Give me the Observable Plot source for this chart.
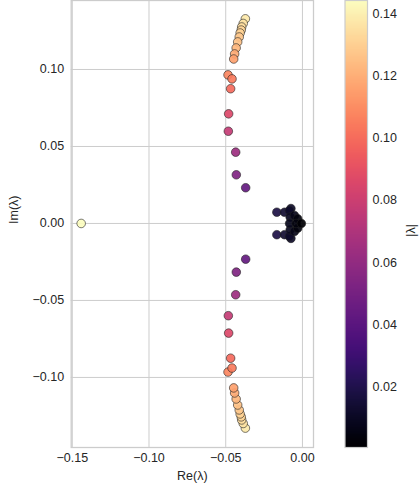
<!DOCTYPE html>
<html>
<head>
<meta charset="utf-8">
<script src="https://cdn.jsdelivr.net/npm/d3@7"></script>
<script src="https://cdn.jsdelivr.net/npm/@observablehq/plot@0.6"></script>
<style>
  body { margin: 0; background: #fff; }
  #wrap { position: relative; width: 419px; height: 488px; }
  #wrap svg { position: absolute; left: 0; top: 0; overflow: visible; }
</style>
</head>
<body>
<div id="wrap"></div>
<script>
const reParts = [
  -0.1442,
  -0.0372, -0.0386, -0.0396, -0.0399, -0.0406, -0.0412, -0.0422, -0.0432, -0.0442, -0.0448,
  -0.0485, -0.0459, -0.0468, -0.0481, -0.0483, -0.0435, -0.0431, -0.0370,
  -0.0372, -0.0386, -0.0396, -0.0399, -0.0406, -0.0412, -0.0422, -0.0432, -0.0442, -0.0448,
  -0.0485, -0.0459, -0.0468, -0.0481, -0.0483, -0.0435, -0.0431, -0.0370,
  -0.0167, -0.0117, -0.0075, -0.0084, -0.0080, -0.0052, -0.0031,
  -0.0167, -0.0117, -0.0075, -0.0084, -0.0080, -0.0052, -0.0031,
  -0.0084, -0.0041, -0.0007
];
const imParts = [
  0.0,
  0.1329, 0.1299, 0.1276, 0.1256, 0.1237, 0.1211, 0.1179, 0.1140, 0.1101, 0.1068,
  0.0965, 0.0939, 0.0875, 0.0712, 0.0599, 0.0463, 0.0316, 0.0232,
  -0.1329, -0.1299, -0.1276, -0.1256, -0.1237, -0.1211, -0.1179, -0.1140, -0.1101, -0.1068,
  -0.0965, -0.0939, -0.0875, -0.0712, -0.0599, -0.0463, -0.0316, -0.0232,
  0.0073, 0.0073, 0.0097, 0.0084, 0.0041, 0.0052, 0.0031,
  -0.0073, -0.0073, -0.0097, -0.0084, -0.0041, -0.0052, -0.0031,
  0.0, 0.0, 0.0
];
const xTicks = [-0.15, -0.10, -0.05, 0.00];
const yTicks = [-0.10, -0.05, 0.00, 0.05, 0.10];
const cTicks = [0.02, 0.04, 0.06, 0.08, 0.10, 0.12, 0.14];

const points = reParts.map((re, i) => ({re, im: imParts[i], mag: Math.hypot(re, imParts[i])}));
const magExtent = d3.extent(points, d => d.mag);

const font = "'Liberation Sans', Arial, sans-serif";
const fs = 12.5;
const textColor = "#262626";
const fmt = d3.format(".2f");

const W = 419, H = 488;
const colorOpt = {type: "linear", scheme: "magma", domain: magExtent};

const main = Plot.plot({
  width: W, height: H,
  marginLeft: 70.7, marginRight: 106, marginTop: 0, marginBottom: 41,
  style: {fontFamily: font, fontSize: fs + "px", color: textColor, background: "transparent"},
  x: {domain: [-0.1507, 0.0072]},
  y: {domain: [-0.1455, 0.1448]},
  color: colorOpt,
  marks: [
    Plot.gridX(xTicks, {stroke: "#cccccc", strokeOpacity: 1, strokeWidth: 1}),
    Plot.gridY(yTicks, {stroke: "#cccccc", strokeOpacity: 1, strokeWidth: 1}),
    Plot.frame({stroke: "#cccccc", strokeWidth: 1.3}),
    Plot.axisX(xTicks, {tickSize: 0, tickPadding: 6, tickFormat: fmt, label: null, fontSize: fs, fill: textColor}),
    Plot.axisY(yTicks, {tickSize: 0, tickPadding: 7, tickFormat: fmt, label: null, fontSize: fs, fill: textColor}),
    Plot.text(["Re(λ)"], {frameAnchor: "bottom", dy: 28, fontSize: fs, fill: textColor, lineAnchor: "middle"}),
    Plot.text(["Im(λ)"], {frameAnchor: "left", dx: -57, rotate: -90, fontSize: fs, fill: textColor, lineAnchor: "middle"}),
    Plot.dot(points, {x: "re", y: "im", fill: "mag", r: 4.3, stroke: "#222", strokeWidth: 0.6, fillOpacity: 0.92})
  ]
});

const cbar = Plot.plot({
  width: W, height: H,
  marginLeft: 344.5, marginRight: 52, marginTop: 0, marginBottom: 41,
  style: {fontFamily: font, fontSize: fs + "px", color: textColor, background: "transparent"},
  x: {domain: [0, 1], axis: null},
  y: {domain: magExtent},
  color: colorOpt,
  marks: [
    Plot.raster({x1: 0, x2: 1, y1: magExtent[0], y2: magExtent[1], width: 1, height: 256,
      fill: (x, y) => y, imageRendering: "auto"}),
    Plot.frame({stroke: "#cccccc", strokeWidth: 1.2}),
    Plot.axisY(cTicks, {anchor: "right", tickSize: 0, tickPadding: 5, tickFormat: fmt, label: null, fontSize: fs, fill: textColor}),
    Plot.text(["|λ|"], {frameAnchor: "right", dx: 43, rotate: -90, fontSize: fs, fill: textColor, lineAnchor: "middle"})
  ]
});

const wrap = document.getElementById("wrap");
wrap.appendChild(main);
wrap.appendChild(cbar);
</script>
</body>
</html>
